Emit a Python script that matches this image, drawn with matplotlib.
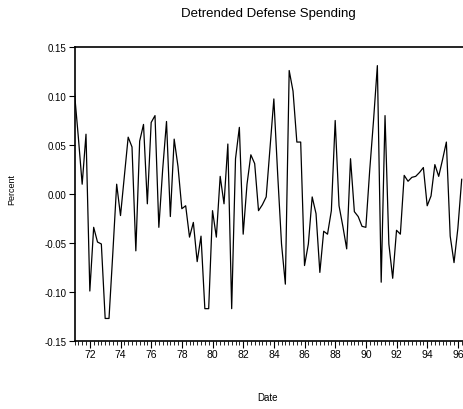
import numpy as np
import matplotlib
matplotlib.use("Agg")
import matplotlib.pyplot as plt
from matplotlib.ticker import MultipleLocator

plt.rcParams['font.family'] = ['Liberation Sans', 'DejaVu Sans']

# quarterly series, first quarter of 1971 onwards (years as 2-digit decimals)
start_year = 71.0
spending = [
    0.103, 0.058, 0.010, 0.061, -0.099, -0.034, -0.049, -0.051, -0.127, -0.127,
    -0.060, 0.010, -0.022, 0.018, 0.058, 0.048, -0.058, 0.054, 0.071, -0.010,
    0.073, 0.080, -0.034, 0.025, 0.074, -0.023, 0.056, 0.028, -0.015, -0.012,
    -0.044, -0.029, -0.069, -0.043, -0.117, -0.117, -0.017, -0.044, 0.018, -0.010,
    0.051, -0.117, 0.036, 0.068, -0.041, 0.010, 0.040, 0.031, -0.017, -0.011,
    -0.003, 0.047, 0.097, 0.020, -0.051, -0.092, 0.126, 0.105, 0.053, 0.053,
    -0.073, -0.051, -0.003, -0.020, -0.080, -0.038, -0.041, -0.017, 0.075, -0.012,
    -0.033, -0.056, 0.036, -0.018, -0.023, -0.033, -0.034, 0.024, 0.075, 0.131,
    -0.090, 0.080, -0.051, -0.086, -0.037, -0.041, 0.019, 0.013, 0.017, 0.018,
    0.022, 0.027, -0.012, -0.002, 0.030, 0.018, 0.035, 0.053, -0.043, -0.070,
    -0.035, 0.015,
]
dates = start_year + np.arange(len(spending)) / 4.0

year_ticks = [72, 74, 76, 78, 80, 82, 84, 86, 88, 90, 92, 94, 96]
year_labels = ['72', '74', '76', '78', '80', '82', '84', '86', '88', '90', '92', '94', '96']
pct_ticks = [-0.15, -0.10, -0.05, 0.00, 0.05, 0.10, 0.15]
pct_labels = ['-0.15', '-0.10', '-0.05', '0.00', '0.05', '0.10', '0.15']

fig = plt.figure(figsize=(4.64, 4.10), dpi=100)
ax = fig.add_axes([74.5 / 464, 1 - 342 / 410, 1 - 74.5 / 464, (342 - 48) / 410])

ax.plot(dates, spending, color='black', linewidth=0.9)

ax.set_xlim(71.0, 96.4)
ax.set_ylim(-0.15, 0.15)
ax.set_yticks(pct_ticks)
ax.set_yticklabels(pct_labels)
ax.set_xticks(year_ticks)
ax.set_xticklabels(year_labels)
ax.xaxis.set_minor_locator(MultipleLocator(0.25))

ax.spines['right'].set_visible(False)
for s in ['left', 'top', 'bottom']:
    ax.spines[s].set_linewidth(1.2)
ax.tick_params(axis='y', direction='out', length=4, width=0.8, labelsize=7, pad=2)
ax.tick_params(axis='x', which='major', direction='out', length=5, width=0.8,
               labelsize=7.5, pad=1)
ax.tick_params(axis='x', which='minor', direction='out', length=3, width=0.6)

fig.text(268 / 464, 1 - 14 / 410, 'Detrended Defense Spending', ha='center',
         va='center', fontsize=9.5)
fig.text(268 / 464, 1 - 398 / 410, 'Date', ha='center', va='center', fontsize=7)
fig.text(12 / 464, 1 - 190 / 410, 'Percent', ha='center', va='center',
         rotation=90, fontsize=6.5)

fig.savefig('out.png', dpi=100)
